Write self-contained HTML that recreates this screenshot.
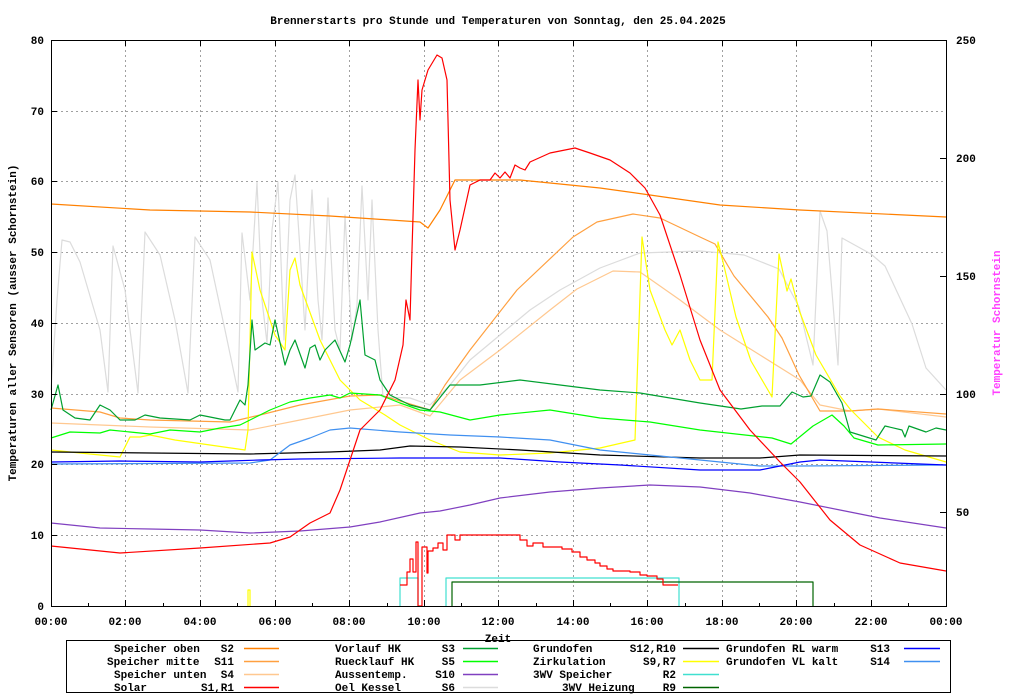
<!DOCTYPE html>
<html><head><meta charset="utf-8"><style>
html,body{margin:0;padding:0;background:#fff;}
svg{display:block;}
text{font-family:"Liberation Mono",monospace;font-size:11px;font-weight:bold;fill:#000;}
</style></head><body>
<svg width="1024" height="700" viewBox="0 0 1024 700" xmlns="http://www.w3.org/2000/svg">
<rect width="1024" height="700" fill="#fff"/>
<text x="498" y="24" text-anchor="middle">Brennerstarts pro Stunde und Temperaturen von Sonntag, den 25.04.2025</text>
<g stroke="#a0a0a0" stroke-width="1" stroke-dasharray="2,3" fill="none">
<path d="M51 535.5H946M51 464.5H946M51 394.5H946M51 323.5H946M51 252.5H946M51 181.5H946M51 111.5H946"/>
<path d="M125.5 40V606M200.5 40V606M275.5 40V606M349.5 40V606M424.5 40V606M498.5 40V606M573.5 40V606M647.5 40V606M722.5 40V606M796.5 40V606M871.5 40V606"/>
</g>
<g fill="none" stroke-width="1.2" stroke-linejoin="round">
<polyline stroke="#dcdcdc" points="51,390 57,300 62,240 70,242 80,262 100,330 108,392 113,246 125,290 138,393 145,232 160,255 175,320 188,393 195,237 210,260 225,330 238,392 242,233 250,300 257,182 262,300 267,343 272,230 278,182 284,340 290,200 295,175 300,250 305,330 312,190 318,300 322,340 328,198 335,330 340,350 345,215 352,340 357,305 362,186 368,300 372,200 378,330 383,397 410,398 430,405 450,385 470,360 500,335 530,310 560,290 600,268 640,253 700,251 744,255 779,269 799,307 813,365 820,211 827,231 838,365 842,238 871,254 885,266 912,324 926,368 946,390"/>
<polyline stroke="#ffc890" points="51,423 150,427 250,430 300,420 350,410 400,405 430,416 460,380 500,350 550,310 577,289 613,271 640,272 680,300 720,330 760,355 800,380 820,405 850,411 878,409 946,417"/>
<polyline stroke="#ffa040" points="51,408 100,412 120,418 150,420 230,422 260,415 300,405 350,396 380,395 430,410 445,385 470,350 517,290 573,237 597,222 633,214 660,218 700,237 715,244 734,276 768,317 782,338 799,375 820,411 850,411 878,409 946,414"/>
<polyline stroke="#ff8000" points="51,204 150,210 250,212 330,216 420,222 428,228 440,210 455,180 520,180 600,188 650,195 720,205 800,210 946,217"/>
<polyline stroke="#ffff00" points="51,450 80,453 100,455 120,457 130,437 140,437 150,435 175,440 210,445 245,450 248,430 252,252 260,290 275,335 285,350 290,270 295,258 300,285 320,340 340,380 360,400 385,415 400,425 430,440 460,452 500,455 550,453 600,448 635,440 642,237 650,290 665,330 672,345 680,330 690,360 700,380 712,380 718,242 724,266 736,317 751,361 772,397 779,254 787,291 791,279 799,310 816,355 840,396 850,409 878,437 905,450 946,462"/>
<polyline stroke="#ffff00" points="248,606 248,590 250,590 250,606"/>
<polyline stroke="#00ff00" points="51,438 70,432 100,433 110,430 130,432 150,434 170,430 200,432 220,428 240,425 250,420 270,410 290,402 310,398 330,395 340,398 350,393 380,395 400,403 420,410 440,412 470,420 500,415 550,410 600,418 650,422 700,430 772,438 791,444 813,426 832,415 844,426 854,438 878,445 946,444"/>
<polyline stroke="#00a030" points="51,410 58,385 63,410 75,418 90,420 100,405 110,410 120,420 135,420 145,415 160,418 190,420 200,415 225,420 230,420 240,400 245,405 248,385 252,320 255,350 265,343 270,345 275,320 285,365 290,350 295,340 305,368 310,348 315,345 320,360 325,350 335,340 345,362 350,345 360,300 365,355 375,360 380,380 390,395 410,405 430,410 450,385 480,385 520,380 560,385 600,390 640,393 700,403 741,409 762,406 780,406 792,392 803,397 811,396 820,375 830,382 842,403 850,432 876,440 885,426 902,430 905,437 909,426 926,432 936,428 946,430"/>
<polyline stroke="#000" points="51,452 150,453 250,454 330,452 380,450 410,446 460,447 520,450 600,455 700,458 760,458 800,455 946,456"/>
<polyline stroke="#4090f0" points="51,464 250,463 270,460 290,445 310,438 330,430 350,428 400,432 450,435 500,437 550,440 600,450 650,455 700,460 760,466 800,466 946,465"/>
<polyline stroke="#0000ff" points="51,462 120,461 200,462 230,461 260,460 300,459 400,458 500,458 560,462 620,465 700,470 760,470 800,462 820,460 946,465"/>
<polyline stroke="#8040c0" points="51,523 100,528 150,529 200,530 250,533 300,531 350,527 380,522 420,513 440,511 470,505 500,498 550,492 600,488 650,485 700,487 750,493 800,502 840,510 880,518 946,528"/>
<polyline stroke="#40e0d0" points="400,606 400,578 418,578 418,606"/>
<polyline stroke="#40e0d0" points="446,606 446,578 679,578 679,606"/>
<polyline stroke="#006400" points="452,606 452,582 813,582 813,606"/>
<polyline stroke="#ff0000" points="400,585 407,585 407,572 410,572 410,559 413,559 413,572 416,572 416,542 418,542 418,606 422,606 422,547 427,547 427,573 428,573 428,551 433,551 433,548 438,548 438,543 443,543 443,550 447,550 447,535 455,535 455,540 460,540 460,535 520,535 520,540 527,540 527,546 533,546 533,543 543,543 543,547 562,547 562,549 572,549 572,552 580,552 580,557 587,557 587,560 595,560 595,563 600,563 600,566 607,566 607,569 613,569 613,571 630,571 630,572 640,572 640,575 647,575 647,576 657,576 657,579 663,579 663,585 678,585"/>
<polyline stroke="#ff0000" points="51,546 120,553 200,548 270,543 290,537 310,523 330,513 340,490 350,460 360,430 380,410 395,380 403,345 406,300 410,320 412,250 415,150 418,80 420,120 422,90 428,70 437,55 442,58 447,80 450,200 455,250 460,230 470,185 480,180 490,180 495,173 500,178 505,172 510,178 515,165 520,168 525,170 530,162 550,153 575,148 590,153 610,160 630,173 645,188 660,215 680,275 700,340 720,390 750,430 780,462 800,482 830,520 860,545 900,563 946,571"/>
</g>
<rect x="51.5" y="40.5" width="895" height="566" fill="none" stroke="#000" stroke-width="1"/>
<g stroke="#000" stroke-width="1">
<path d="M51 535.5h6M51 464.5h6M51 394.5h6M51 323.5h6M51 252.5h6M51 181.5h6M51 111.5h6"/>
<path d="M946 512.5h-6M946 394.5h-6M946 276.5h-6M946 158.5h-6"/>
<path d="M125.5 606v-6M200.5 606v-6M275.5 606v-6M349.5 606v-6M424.5 606v-6M498.5 606v-6M573.5 606v-6M647.5 606v-6M722.5 606v-6M796.5 606v-6M871.5 606v-6M88.5 606v-3M163.5 606v-3M237.5 606v-3M312.5 606v-3M387.5 606v-3M461.5 606v-3M536.5 606v-3M610.5 606v-3M685.5 606v-3M759.5 606v-3M834.5 606v-3M908.5 606v-3"/>
<path d="M125.5 40v6M200.5 40v6M275.5 40v6M349.5 40v6M424.5 40v6M498.5 40v6M573.5 40v6M647.5 40v6M722.5 40v6M796.5 40v6M871.5 40v6"/>
</g>
<g text-anchor="end">
<text x="44" y="610">0</text><text x="44" y="539">10</text><text x="44" y="468">20</text><text x="44" y="398">30</text><text x="44" y="327">40</text><text x="44" y="256">50</text><text x="44" y="185">60</text><text x="44" y="115">70</text><text x="44" y="44">80</text>
</g>
<g>
<text x="956" y="516">50</text><text x="956" y="398">100</text><text x="956" y="280">150</text><text x="956" y="162">200</text><text x="956" y="44">250</text>
</g>
<g text-anchor="middle">
<text x="51" y="625">00:00</text><text x="125" y="625">02:00</text><text x="200" y="625">04:00</text><text x="275" y="625">06:00</text><text x="349" y="625">08:00</text><text x="424" y="625">10:00</text><text x="498" y="625">12:00</text><text x="573" y="625">14:00</text><text x="647" y="625">16:00</text><text x="722" y="625">18:00</text><text x="796" y="625">20:00</text><text x="871" y="625">22:00</text><text x="946" y="625">00:00</text>
<text x="498" y="642">Zeit</text>
</g>
<text transform="translate(16,323) rotate(-90)" text-anchor="middle">Temperaturen aller Sensoren (ausser Schornstein)</text>
<text transform="translate(1000,323) rotate(-90)" text-anchor="middle" style="fill:#ff40ff">Temperatur Schornstein</text>
<rect x="66.5" y="640.5" width="884" height="52" fill="none" stroke="#000"/>
<g>
<text x="114" y="652">Speicher oben</text><text x="107" y="665">Speicher mitte</text><text x="114" y="678">Speicher unten</text><text x="114" y="691">Solar</text>
<text x="335" y="652">Vorlauf HK</text><text x="335" y="665">Ruecklauf HK</text><text x="335" y="678">Aussentemp.</text><text x="335" y="691">Oel Kessel</text>
<text x="533" y="652">Grundofen</text><text x="533" y="665">Zirkulation</text><text x="533" y="678">3WV Speicher</text><text x="562" y="691">3WV Heizung</text>
<text x="726" y="652">Grundofen RL warm</text><text x="726" y="665">Grundofen VL kalt</text>
</g>
<g text-anchor="end">
<text x="234" y="652">S2</text><text x="234" y="665">S11</text><text x="234" y="678">S4</text><text x="234" y="691">S1,R1</text>
<text x="455" y="652">S3</text><text x="455" y="665">S5</text><text x="455" y="678">S10</text><text x="455" y="691">S6</text>
<text x="676" y="652">S12,R10</text><text x="676" y="665">S9,R7</text><text x="676" y="678">R2</text><text x="676" y="691">R9</text>
<text x="890" y="652">S13</text><text x="890" y="665">S14</text>
</g>
<g stroke-width="1.5">
<path d="M244 648.5h35" stroke="#ff8000"/><path d="M244 661.5h35" stroke="#ffa040"/><path d="M244 674.5h35" stroke="#ffc890"/><path d="M244 687.5h35" stroke="#ff0000"/>
<path d="M463 648.5h35" stroke="#00a030"/><path d="M463 661.5h35" stroke="#00ff00"/><path d="M463 674.5h35" stroke="#8040c0"/><path d="M463 687.5h35" stroke="#dcdcdc"/>
<path d="M683 648.5h36" stroke="#000"/><path d="M683 661.5h36" stroke="#ffff00"/><path d="M683 674.5h36" stroke="#40e0d0"/><path d="M683 687.5h36" stroke="#006400"/>
<path d="M904 648.5h36" stroke="#0000ff"/><path d="M904 661.5h36" stroke="#4090f0"/>
</g>
</svg>
</body></html>
